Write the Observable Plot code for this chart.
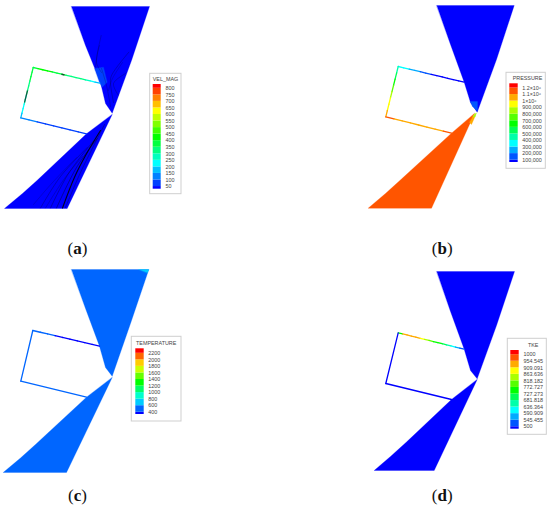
<!DOCTYPE html>
<html>
<head>
<meta charset="utf-8">
<script src="https://cdn.jsdelivr.net/npm/d3@7"></script>
<script src="https://cdn.jsdelivr.net/npm/@observablehq/plot@0.6"></script>
<style>html,body{margin:0;padding:0;background:#fff}svg{display:block}</style>
</head>
<body>
<div id="chart"></div>
<script>
// Colour bands, low to high
const spectrum17 = ["#0000ff","#0040ff","#0080ff","#00bfff","#00ffff","#00ffbf","#00ff80","#00ff40","#00ff00","#40ff00","#80ff00","#bfff00","#ffff00","#ffbf00","#ff8000","#ff4000","#ff0000"];
const spectrum13 = ["#0000ff","#0055ff","#00aaff","#00ffff","#00ffaa","#00ff55","#00ff00","#55ff00","#aaff00","#ffff00","#ffaa00","#ff5500","#ff0000"];
const spectrum11 = ["#0000ff","#0066ff","#00ccff","#00ffcc","#00ff66","#00ff00","#66ff00","#ccff00","#ffcc00","#ff6600","#ff0000"];

// Legend labels, top to bottom
const velLabels = ["800","750","700","650","600","550","500","450","400","350","300","250","200","150","100","50"];
const presLabels = ["1.2×10⁶","1.1×10⁶","1×10⁶","900,000","800,000","700,000","600,000","500,000","400,000","300,000","200,000","100,000"];
const tempLabels = ["2200","2000","1800","1600","1400","1200","1000","800","600","400"];
const tkeLabels = ["1000","954.545","909.091","863.636","818.182","772.727","727.273","681.818","636.364","590.909","545.455","500"];

// Legend frames: title, box [x1,y1,x2,y2], swatch x [x1,x2], swatch y [y1,y2], label x, first label y, step
const legends = [
  {title:"VEL_MAG", tx:165, ty:78.5, box:[149.7,73.3,181,193.7], sx:[152.7,160.7], sy:[84,188.7], lx:165, ly:87.8, step:6.55, labels:velLabels, colors:spectrum17},
  {title:"PRESSURE", tx:527, ty:78, box:[506,72.3,545.3,168.3], sx:[509.3,517.7], sy:[83.3,162], lx:521.7, ly:87.5, step:6.56, labels:presLabels, colors:spectrum13},
  {title:"TEMPERATURE", tx:155.7, ty:342.8, box:[131.3,336.3,181,421], sx:[135.3,143.7], sy:[348.3,414], lx:147.7, ly:352.8, step:6.55, labels:tempLabels, colors:spectrum11},
  {title:"TKE", tx:532.7, ty:344.3, box:[507.3,338.3,546.3,434.3], sx:[510.3,518.7], sy:[350,428.7], lx:523, ly:354.2, step:6.55, labels:tkeLabels, colors:spectrum13}
];

// Filled regions of each panel: outline points and colour band
const regions = [
  {c:spectrum17[0], pts:[[71,6],[149,6],[131,60],[111.7,112.7],[105,103],[100,82],[85,45]]},
  {c:spectrum17[1], pts:[[94.3,68],[103,66.7],[106.7,81.7],[101.7,86.7],[99,82]]},
  {c:spectrum17[0], pts:[[111.7,114],[66.7,208],[4,208],[22,193],[36.5,180],[86,133.3]]},
  {c:spectrum13[0], pts:[[436.3,5],[513.7,5],[496,59],[476.7,111.7],[470,102],[463.7,81.7],[450,44]]},
  {c:spectrum13[1], pts:[[470,101],[477,101],[477,110.5],[472,106]]},
  {c:spectrum13[11], pts:[[474,113],[431,207.7],[367.7,207.7],[385,193],[401,178.5],[451,132.7]]},
  {c:spectrum13[10], pts:[[472.5,116],[475,115],[471,124],[469,122]]},
  {c:spectrum13[8], pts:[[474,113.5],[476,112.5],[474.5,116.5],[472.5,116.5]]},
  {c:spectrum11[1], pts:[[71,269],[148.3,269],[130,323],[111.7,375.7],[105,367],[99,345.7],[85,308]]},
  {c:spectrum11[2], pts:[[138.3,269],[148.3,269],[147,272.3]]},
  {c:spectrum11[1], pts:[[111.7,377],[66,472],[2.7,472],[20,457.5],[35,444],[86,396.7]]},
  {c:spectrum13[0], pts:[[436.3,271],[514,271],[496,325],[476.7,378.3],[470,370],[463.7,348.7],[450,311]]},
  {c:spectrum13[0], pts:[[476.7,379],[433.7,470],[373.7,470],[390,456],[406,441.5],[451,399]]}
];

// Wall edges: end points and the colour bands met along them
const edges = [
  {from:[32.7,67], to:[99.3,82.7], colors:spectrum17, bands:[7,8,8,8,7,7,7,6,6,6,6,5,4,3]},
  {from:[32.7,67], to:[20.3,117.3], colors:spectrum17, bands:[7,7,7,6,6,6,5,5,4,4,3]},
  {from:[20.3,117.3], to:[86,133.3], colors:spectrum17, bands:[2,2,1,1,1,1,1,1]},
  {from:[397.7,66], to:[463.7,81.7], colors:spectrum13, bands:[3,3,2,2,1,1,0,0,0,0,0,0]},
  {from:[397.7,66], to:[385.3,116.3], colors:spectrum13, bands:[4,5,6,7,8,9,9,10]},
  {from:[385.3,116.3], to:[451,132.7], colors:spectrum13, bands:[11,10,10,10,10,10,10,11]},
  {from:[32.3,330], to:[99,345.7], colors:spectrum11, bands:[1,1,1,0,0,0,0,0,0]},
  {from:[32.3,330], to:[20.3,380.7], colors:spectrum11, bands:[1]},
  {from:[20.3,380.7], to:[86,396.7], colors:spectrum11, bands:[1]},
  {from:[397.7,332.3], to:[463.7,348.7], colors:spectrum13, bands:[6,10,10,10,10,9,8,7,6,6,5,4,3,2,1]},
  {from:[397.7,332.3], to:[385.3,383], colors:spectrum13, bands:[0]},
  {from:[385.3,383], to:[451,399], colors:spectrum13, bands:[0]}
];

// Streamlines in panel (a)
const streams = [
  {w:1.1, o:.9, pts:[[62,207.5],[74,176.7],[86,153.3],[100,130]]},
  {w:.6, o:.5, pts:[[50,207.5],[68,173],[93.3,140]]},
  {w:.6, o:.45, pts:[[40,207.5],[60,176],[86.7,147]]},
  {w:.5, o:.35, pts:[[33,204],[52,182],[76,157]]},
  {w:.7, o:.55, pts:[[56,207.5],[76,167],[96.7,138]]},
  {w:.5, o:.4, pts:[[45,207.5],[64,178],[82,156]]},
  {w:.6, o:.5, pts:[[65,207],[80,172],[104,124]]},
  {w:.5, o:.4, pts:[[100.7,35],[97,52],[95,66.7]]},
  {w:.5, o:.4, pts:[[99,45],[96,62],[101,72]]},
  {w:.5, o:.5, pts:[[128.3,51.7],[111,75],[110,82],[113,102]]},
  {w:.5, o:.45, pts:[[125,73],[113,83],[118,95]]},
  {w:.5, o:.4, pts:[[101,68],[106,85],[110,106]]},
  {w:.5, o:.35, pts:[[122,62],[112,78],[108,90]]}
];
const wallSpots = [
  {from:[61,73.8], to:[64,74.6], w:1.6},
  {from:[27,90], to:[24,102], w:1.2}
];

// Captions
const captions = [
  {letter:"a", x:77, y:248},
  {letter:"b", x:441.7, y:248},
  {letter:"c", x:77, y:495},
  {letter:"d", x:441.7, y:495}
];

const regionPts = regions.flatMap((r,id)=>r.pts.map(p=>({x:p[0],y:p[1],id,c:r.c})));
const streamPts = streams.map(s=>s.pts.map(p=>({x:p[0],y:p[1]})));
const edgeSegs = edges.flatMap(e=>e.bands.map((b,i)=>{
  const n=e.bands.length, a=i/n, z=(i+1)/n;
  return {x1:e.from[0]+(e.to[0]-e.from[0])*a, y1:e.from[1]+(e.to[1]-e.from[1])*a,
          x2:e.from[0]+(e.to[0]-e.from[0])*z, y2:e.from[1]+(e.to[1]-e.from[1])*z, c:e.colors[b]};
}));
const swatches = legends.flatMap(l=>l.colors.map((c,i)=>{
  const n=l.colors.length, t=n-1-i; // colours listed low to high, drawn top down; boundaries sit on the labels
  return {x1:l.sx[0],x2:l.sx[1],
    y1:t===0?l.sy[0]:l.ly+(t-1)*l.step,
    y2:t===n-1?l.sy[1]:l.ly+t*l.step, c};
}));
const legendText = legends.flatMap(l=>l.labels.map((t,i)=>({t,x:l.lx,y:l.ly+i*l.step})));

const font = "Liberation Sans, Arial, sans-serif";
const chart = Plot.plot({
  width:550, height:510, margin:0,
  x:{domain:[0,550], range:[0,550], axis:null},
  y:{domain:[0,510], range:[0,510], axis:null},
  color:{type:"identity"},
  style:{background:"#fff", fontFamily:font},
  marks:[
    Plot.line(regionPts,{x:"x",y:"y",z:"id",fill:"c",stroke:"c",strokeWidth:.3,curve:"linear-closed"}),
    Plot.link(edgeSegs,{x1:"x1",y1:"y1",x2:"x2",y2:"y2",stroke:"c",strokeWidth:1.3,strokeLinecap:"round"}),
    ...streamPts.map((pts,i)=>Plot.line(pts,{x:"x",y:"y",stroke:"#000010",strokeWidth:streams[i].w,strokeOpacity:streams[i].o,curve:"catmull-rom"})),
    Plot.link(wallSpots,{x1:d=>d.from[0],y1:d=>d.from[1],x2:d=>d.to[0],y2:d=>d.to[1],stroke:"#102020",strokeWidth:d=>d.w,strokeOpacity:.75}),
    Plot.rect(legends,{x1:d=>d.box[0],y1:d=>d.box[1],x2:d=>d.box[2],y2:d=>d.box[3],fill:"#fff",stroke:"#cfcfcf",strokeWidth:1}),
    Plot.rect(swatches,{x1:"x1",x2:"x2",y1:"y1",y2:"y2",fill:"c"}),
    Plot.text(legends,{x:"tx",y:"ty",text:"title",fontSize:5.4,fill:"#444",textAnchor:"middle"}),
    Plot.text(legendText,{x:"x",y:"y",text:"t",fontSize:5.4,fill:"#444",textAnchor:"start"}),
    Plot.text(captions,{x:"x",y:"y",text:d=>`(${d.letter})`,fontSize:17,fill:"#111",fontFamily:"Liberation Serif, serif"})
  ]
});
// Bold the panel letter within each caption
const ns="http://www.w3.org/2000/svg";
chart.querySelectorAll("text").forEach(n=>{
  const m=/^\(([a-d])\)$/.exec(n.textContent);
  if(!m) return;
  const b=document.createElementNS(ns,"tspan");
  b.setAttribute("font-weight","bold");
  b.textContent=m[1];
  n.textContent="(";
  n.appendChild(b);
  n.appendChild(document.createTextNode(")"));
});
document.getElementById("chart").appendChild(chart);
</script>
</body>
</html>
